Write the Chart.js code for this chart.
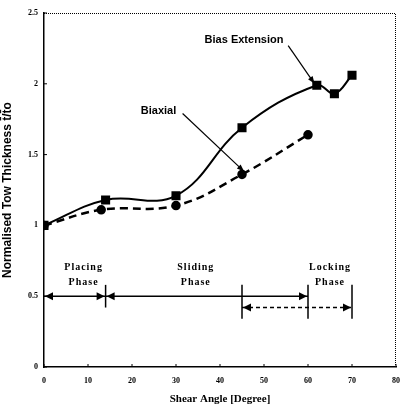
<!DOCTYPE html>
<html>
<head>
<meta charset="utf-8">
<script src="https://cdn.jsdelivr.net/npm/chart.js@4.4.1/dist/chart.umd.min.js"></script>
<style>
  html, body { margin: 0; padding: 0; background: #fff; }
  #wrap { width: 409px; height: 406px; }
</style>
</head>
<body>
<div id="wrap"><canvas id="c"></canvas></div>
<script>
// values
const biasAngles = [0, 14, 30, 45, 62, 66, 70]
const biasThickness = [1.0, 1.18, 1.21, 1.69, 1.99, 1.93, 2.06]
const biaxialAngles = [0, 13, 30, 45, 60]
const biaxialThickness = [1.0, 1.11, 1.14, 1.36, 1.64]
const xTicks = [0, 10, 20, 30, 40, 50, 60, 70, 80]
const yTicks = [0, 0.5, 1, 1.5, 2, 2.5]
const phases = [
  { name: 'Placing', from: 0, to: 14 },
  { name: 'Sliding', from: 14, to: 60 },
  { name: 'Locking', from: 45, to: 70 }
]

const toPoints = (xs, ys) => xs.map((x, i) => ({ x: x, y: ys[i] }))

const sansBold = 'bold 11px "Liberation Sans", Arial, sans-serif'
const serifBold = 'bold 10px "Liberation Serif", "DejaVu Serif", serif'

function arrowHead(ctx, x, y, dir) {
  ctx.beginPath()
  ctx.moveTo(x, y)
  ctx.lineTo(x - dir * 8, y - 4)
  ctx.lineTo(x - dir * 8, y + 4)
  ctx.closePath()
  ctx.fill()
}

function pointer(ctx, x1, y1, x2, y2) {
  ctx.beginPath()
  ctx.moveTo(x1, y1)
  ctx.lineTo(x2, y2)
  ctx.stroke()
  const a = Math.atan2(y2 - y1, x2 - x1)
  ctx.beginPath()
  ctx.moveTo(x2, y2)
  ctx.lineTo(x2 - 8 * Math.cos(a - 0.35), y2 - 8 * Math.sin(a - 0.35))
  ctx.lineTo(x2 - 8 * Math.cos(a + 0.35), y2 - 8 * Math.sin(a + 0.35))
  ctx.closePath()
  ctx.fill()
}

const extras = {
  id: 'extras',
  afterDraw: (chart) => {
    const ctx = chart.ctx
    const xs = chart.scales.x
    const ys = chart.scales.y
    const area = chart.chartArea
    const px = v => xs.getPixelForValue(v)
    const py = v => ys.getPixelForValue(v)
    ctx.save()
    ctx.fillStyle = '#000'
    ctx.strokeStyle = '#000'

    // dotted top and right frame
    ctx.lineWidth = 1
    ctx.setLineDash([1, 1])
    ctx.beginPath()
    ctx.moveTo(area.left, area.top + 0.5)
    ctx.lineTo(area.right - 0.5, area.top + 0.5)
    ctx.lineTo(area.right - 0.5, area.bottom)
    ctx.stroke()
    ctx.setLineDash([])

    // small inner ticks
    xTicks.forEach(v => {
      ctx.beginPath()
      ctx.moveTo(px(v), area.bottom)
      ctx.lineTo(px(v), area.bottom - 3)
      ctx.stroke()
    })
    yTicks.forEach(v => {
      ctx.beginPath()
      ctx.moveTo(area.left, py(v))
      ctx.lineTo(area.left + 3, py(v))
      ctx.stroke()
    })

    // series labels with pointer arrows
    ctx.font = sansBold
    ctx.textBaseline = 'middle'
    ctx.textAlign = 'left'
    ctx.fillText('Bias Extension', px(36.5), py(2.31))
    ctx.fillText('Biaxial', px(22), py(1.81))
    ctx.lineWidth = 1.2
    pointer(ctx, px(55.5), py(2.27), px(61.5), py(2.0))
    pointer(ctx, px(31.5), py(1.79), px(45.5), py(1.38))

    // phase labels
    ctx.font = serifBold
    ctx.letterSpacing = '1px'
    ctx.textAlign = 'center'
    const labelX = [9, 34.5, 65]
    phases.forEach((p, i) => {
      ctx.fillText(p.name, px(labelX[i]), py(0.70))
      ctx.fillText('Phase', px(labelX[i]), py(0.60))
    })
    ctx.letterSpacing = '0px'

    // phase arrows
    ctx.lineWidth = 1.5
    const yA = py(0.5)
    const yB = py(0.42)
    ctx.beginPath()
    ctx.moveTo(px(0), yA)
    ctx.lineTo(px(60), yA)
    ctx.stroke()
    arrowHead(ctx, px(0) + 1, yA, -1)
    arrowHead(ctx, px(14) - 1, yA, 1)
    arrowHead(ctx, px(14) + 1, yA, -1)
    arrowHead(ctx, px(60) - 1, yA, 1)

    ctx.setLineDash([4, 3])
    ctx.beginPath()
    ctx.moveTo(px(45), yB)
    ctx.lineTo(px(70), yB)
    ctx.stroke()
    ctx.setLineDash([])
    arrowHead(ctx, px(45) + 1, yB, -1)
    arrowHead(ctx, px(70) - 1, yB, 1)

    ctx.lineWidth = 1.5
    const verticals = [[14, 0.58, 0.42], [45, 0.58, 0.34], [60, 0.58, 0.34], [70, 0.58, 0.34]]
    verticals.forEach(v => {
      ctx.beginPath()
      ctx.moveTo(px(v[0]), py(v[1]))
      ctx.lineTo(px(v[0]), py(v[2]))
      ctx.stroke()
    })
    ctx.restore()
  }
}

new Chart(document.getElementById('c'), {
  type: 'line',
  data: {
    datasets: [
      {
        label: 'Bias Extension',
        data: toPoints(biasAngles, biasThickness),
        borderColor: '#000',
        backgroundColor: '#000',
        borderWidth: 2,
        pointStyle: 'rect',
        pointRadius: 5,
        tension: 0.4
      },
      {
        label: 'Biaxial',
        data: toPoints(biaxialAngles, biaxialThickness),
        borderColor: '#000',
        backgroundColor: '#000',
        borderWidth: 2.5,
        borderDash: [8, 5],
        pointStyle: 'circle',
        pointRadius: 3.5,
        tension: 0.4
      }
    ]
  },
  options: {
    responsive: true,
    maintainAspectRatio: false,
    animation: false,
    layout: { padding: { left: 0, right: 3, top: 13, bottom: 0 } },
    plugins: { legend: { display: false }, tooltip: { enabled: false } },
    scales: {
      x: {
        type: 'linear',
        min: 0,
        max: 80,
        afterBuildTicks: s => { s.ticks = xTicks.map(v => ({ value: v })) },
        afterFit: s => { s.height = 39 },
        grid: { display: false, drawTicks: false },
        border: { display: true, color: '#000', width: 1.5 },
        ticks: {
          padding: 9,
          color: '#000',
          font: { family: '"Liberation Serif", serif', size: 8, weight: 'bold' },
          maxRotation: 0
        },
        title: {
          display: true,
          text: 'Shear Angle [Degree]',
          color: '#000',
          padding: { top: 2, bottom: 0 },
          font: { family: '"Liberation Serif", serif', size: 11, weight: 'bold' }
        }
      },
      y: {
        type: 'linear',
        min: 0,
        max: 2.5,
        afterBuildTicks: s => { s.ticks = yTicks.map(v => ({ value: v })) },
        afterFit: s => { s.width = 44 },
        grid: { display: false, drawTicks: false },
        border: { display: true, color: '#000', width: 1.5 },
        ticks: {
          padding: 6,
          color: '#000',
          font: { family: '"Liberation Serif", serif', size: 8, weight: 'bold' },
          callback: v => String(v)
        },
        title: {
          display: true,
          text: 'Normalised Tow Thickness t\u0304/t\u0304o',
          color: '#000',
          padding: { top: 0, bottom: 2 },
          font: { family: '"Liberation Sans", Arial, sans-serif', size: 12, weight: 'bold' }
        }
      }
    }
  },
  plugins: [extras]
})
</script>
</body>
</html>
